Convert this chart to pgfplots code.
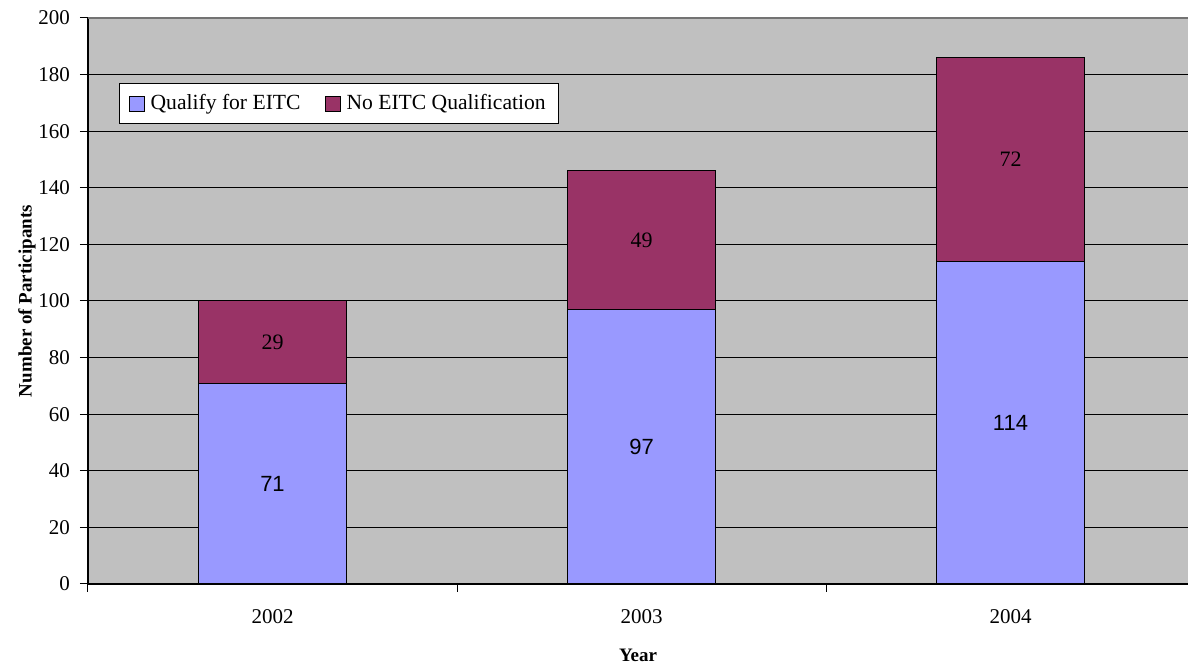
\documentclass[border=0pt]{standalone}
\usepackage{fontspec}
\setmainfont{Liberation Serif}
\setsansfont{Liberation Sans}
\usepackage{pgfplots}
\usepackage{pgfplotstable}
\pgfplotsset{compat=1.18}
\definecolor{qblue}{HTML}{9999FF}
\definecolor{nored}{HTML}{993366}
\definecolor{plotgray}{HTML}{C0C0C0}

% participants per year
\pgfplotstableread{
x q n
0 71 29
1 97 49
2 114 72
}\eitc

\begin{document}
\begin{tikzpicture}
\begin{axis}[
  at={(0,0)}, anchor=south west,
  scale only axis, width=550pt, height=283pt,
  ybar stacked, bar width=0.4,
  xmin=-0.5, xmax=2.481, ymin=0, ymax=200,
  axis background/.style={fill=plotgray},
  axis lines*=left,
  axis line style={black, line width=0.6pt},
  tick align=outside, major tick length=4pt,
  tick style={black, line width=0.5pt},
  ytick={0,20,...,180}, extra y ticks={200},
  extra y tick style={grid style={black!55, line width=0.8pt}},
  ymajorgrids, grid style={black, line width=0.5pt},
  xtick={-0.5,0.5,1.5}, xticklabels={,,},
  extra x ticks={0,1,2}, extra x tick labels={2002,2003,2004},
  extra x tick style={major tick length=0pt, xticklabel style={yshift=-9pt}},
  /pgf/number format/assume math mode=true,
  ticklabel style={font=\fontsize{10.5}{12}\selectfont},
  yticklabel style={xshift=-1.5pt},
  xlabel={Year}, ylabel={Number of Participants},
  label style={font=\fontsize{9.5}{11}\selectfont\bfseries},
  xlabel style={at={(axis description cs:0.5,-0.1254)}, anchor=center},
  ylabel style={at={(axis description cs:-0.0555,0.5)}, anchor=center},
  legend style={at={(axis description cs:0.0282,0.885)}, anchor=north west,
    legend columns=-1, draw=black, line width=0.6pt, fill=white,
    inner xsep=4.5pt, inner ysep=3.5pt,
    font=\fontsize{10.8}{12}\selectfont,
    /tikz/every even column/.append style={column sep=10pt},
    /tikz/every odd column/.append style={column sep=1pt}},
  legend image code/.code={\draw[#1, draw=black, line width=0.5pt] (0pt,-3.75pt) rectangle (7.5pt,3.75pt);},
  nodes near coords, point meta=explicit,
  every node near coord/.append style={anchor=center, text=black},
]
\addplot[fill=qblue, draw=black, line width=0.5pt,
  every node near coord/.append style={font=\sffamily\fontsize{11}{13}\selectfont}]
  table[x=x, y=q, meta=q] {\eitc};
\addlegendentry{Qualify for EITC}
\addplot[fill=nored, draw=black, line width=0.5pt,
  every node near coord/.append style={font=\fontsize{11}{13}\selectfont}]
  table[x=x, y=n, meta=n] {\eitc};
\addlegendentry{No EITC Qualification}
\end{axis}
\pgfresetboundingbox
\path[use as bounding box] (-44pt,-41.5pt) rectangle (550pt,292pt);
\end{tikzpicture}
\end{document}
